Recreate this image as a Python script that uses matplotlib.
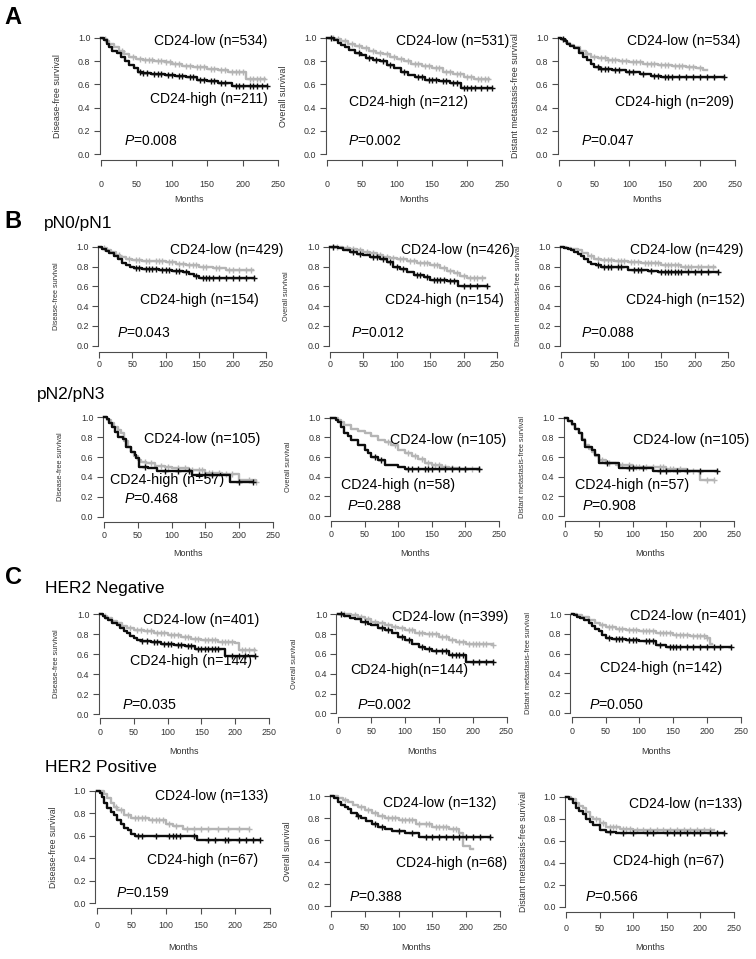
import numpy as np
import matplotlib
matplotlib.use("Agg")
import matplotlib.pyplot as plt

plt.rcParams['font.family'] = ['Liberation Sans', 'DejaVu Sans']
plt.rcParams['mathtext.fontset'] = 'custom'
plt.rcParams['mathtext.it'] = 'Liberation Sans:italic'
plt.rcParams['mathtext.rm'] = 'Liberation Sans'

# ---- data: step points (months, survival) and censor times ----
# A: all patients
a_dfs_low = [(0, 1.0), (3, 0.99), (8, 0.97), (12, 0.95), (18, 0.92), (25, 0.89), (32, 0.86), (40, 0.84),
             (50, 0.82), (60, 0.81), (75, 0.80), (90, 0.79), (100, 0.78), (115, 0.76), (130, 0.75),
             (150, 0.73), (165, 0.72), (180, 0.71), (205, 0.65), (232, 0.65)]
a_dfs_low_c = [5, 30, 45, 55, 62, 68, 72, 80, 85, 92, 98, 105, 110, 120, 125, 135, 140, 145, 155, 160,
               170, 175, 185, 190, 195, 200, 210, 215, 220, 225, 230]
a_dfs_high = [(0, 1.0), (4, 0.98), (8, 0.95), (12, 0.92), (16, 0.89), (22, 0.87), (28, 0.84), (34, 0.80),
              (40, 0.77), (46, 0.74), (52, 0.71), (58, 0.70), (70, 0.69), (90, 0.68), (105, 0.67),
              (120, 0.66), (135, 0.64), (150, 0.63), (165, 0.61), (185, 0.585), (235, 0.585)]
a_dfs_high_c = [55, 60, 65, 75, 80, 85, 95, 100, 110, 115, 125, 130, 140, 145, 155, 160, 170, 175, 190,
                195, 200, 210, 215, 220, 228, 235]

a_os_low = [(0, 1.0), (12, 0.99), (20, 0.97), (30, 0.95), (40, 0.93), (50, 0.91), (60, 0.89), (70, 0.87),
            (80, 0.86), (90, 0.84), (100, 0.82), (110, 0.80), (120, 0.78), (135, 0.76), (150, 0.74),
            (165, 0.71), (180, 0.69), (195, 0.66), (210, 0.645), (232, 0.645)]
a_os_low_c = [8, 15, 25, 35, 45, 55, 65, 75, 85, 95, 105, 115, 125, 130, 140, 145, 155, 160, 170, 175,
              185, 190, 200, 205, 215, 220, 225, 230]
a_os_high = [(0, 1.0), (10, 0.98), (15, 0.96), (20, 0.94), (25, 0.92), (32, 0.90), (40, 0.87), (48, 0.85),
             (55, 0.83), (65, 0.81), (75, 0.80), (85, 0.77), (95, 0.74), (105, 0.71), (115, 0.68),
             (125, 0.66), (140, 0.64), (160, 0.63), (175, 0.61), (192, 0.565), (235, 0.565)]
a_os_high_c = [5, 45, 60, 70, 80, 90, 110, 130, 135, 145, 150, 155, 165, 170, 180, 185, 195, 200, 205,
               212, 220, 228, 235]

a_dmfs_low = [(0, 1.0), (5, 0.98), (10, 0.96), (16, 0.94), (22, 0.92), (30, 0.89), (38, 0.86), (46, 0.84),
              (55, 0.83), (70, 0.81), (85, 0.80), (100, 0.79), (120, 0.78), (140, 0.77), (160, 0.76),
              (180, 0.75), (195, 0.74), (205, 0.72), (210, 0.72)]
a_dmfs_low_c = [40, 50, 60, 65, 70, 75, 80, 90, 95, 105, 110, 115, 125, 130, 135, 145, 150, 155, 165,
                170, 175, 185, 190, 200]
a_dmfs_high = [(0, 1.0), (3, 0.99), (8, 0.97), (12, 0.95), (16, 0.93), (22, 0.91), (28, 0.87), (34, 0.84),
               (40, 0.81), (45, 0.78), (50, 0.75), (58, 0.735), (75, 0.725), (95, 0.71), (115, 0.69),
               (130, 0.67), (145, 0.665), (235, 0.665)]
a_dmfs_high_c = [5, 55, 60, 65, 70, 80, 85, 100, 105, 120, 135, 140, 150, 155, 160, 170, 180, 190, 200,
                 210, 220, 235]

# B: pN0/pN1
b1_dfs_low = [(0, 1.0), (5, 0.99), (12, 0.97), (18, 0.95), (25, 0.92), (32, 0.90), (40, 0.88), (50, 0.865),
              (65, 0.86), (80, 0.855), (100, 0.85), (115, 0.83), (130, 0.815), (150, 0.80), (170, 0.78),
              (190, 0.765), (230, 0.76)]
b1_dfs_low_c = [8, 30, 45, 55, 60, 70, 75, 85, 90, 95, 105, 110, 120, 125, 135, 140, 145, 155, 160, 175,
                180, 195, 200, 210, 220, 228]
b1_dfs_high = [(0, 1.0), (5, 0.98), (10, 0.96), (15, 0.94), (22, 0.91), (28, 0.88), (34, 0.84), (40, 0.815),
               (46, 0.79), (52, 0.78), (65, 0.775), (90, 0.765), (110, 0.755), (125, 0.74), (135, 0.72),
               (142, 0.70), (150, 0.687), (232, 0.687)]
b1_dfs_high_c = [55, 60, 70, 75, 80, 85, 95, 100, 105, 115, 120, 130, 145, 155, 160, 165, 170, 180, 190,
                 200, 210, 220, 232]

b1_os_low = [(0, 1.0), (20, 0.99), (30, 0.98), (40, 0.965), (50, 0.95), (60, 0.935), (70, 0.92), (80, 0.90),
             (90, 0.89), (100, 0.88), (115, 0.86), (130, 0.84), (150, 0.815), (165, 0.78), (175, 0.75),
             (185, 0.73), (195, 0.70), (205, 0.68), (232, 0.68)]
b1_os_low_c = [10, 25, 35, 45, 55, 65, 75, 85, 95, 105, 110, 120, 125, 135, 140, 145, 155, 160, 170, 180,
               190, 200, 210, 215, 220, 228]
b1_os_high = [(0, 1.0), (12, 0.99), (20, 0.97), (30, 0.95), (40, 0.93), (50, 0.915), (60, 0.90), (75, 0.88),
              (85, 0.85), (95, 0.80), (105, 0.77), (115, 0.74), (125, 0.715), (140, 0.69), (150, 0.665),
              (175, 0.657), (192, 0.60), (235, 0.60)]
b1_os_high_c = [5, 35, 45, 65, 70, 80, 90, 100, 110, 130, 135, 145, 155, 160, 165, 170, 180, 185, 200,
                210, 220, 235]

b1_dmfs_low = [(0, 1.0), (8, 0.99), (15, 0.98), (25, 0.965), (32, 0.94), (40, 0.91), (50, 0.88), (60, 0.87),
               (80, 0.86), (100, 0.85), (120, 0.835), (150, 0.815), (180, 0.80), (200, 0.79), (230, 0.79)]
b1_dmfs_low_c = [45, 55, 65, 70, 75, 85, 90, 95, 105, 110, 115, 125, 130, 135, 140, 145, 155, 160, 165,
                 170, 175, 185, 190, 195, 205, 210, 220, 228]
b1_dmfs_high = [(0, 1.0), (5, 0.99), (10, 0.98), (15, 0.965), (20, 0.95), (25, 0.93), (30, 0.91), (35, 0.88),
                (40, 0.85), (45, 0.83), (52, 0.815), (60, 0.80), (80, 0.79), (100, 0.765), (130, 0.75),
                (145, 0.74), (235, 0.74)]
b1_dmfs_high_c = [55, 65, 70, 75, 85, 90, 110, 115, 120, 135, 150, 155, 160, 165, 170, 175, 180, 190, 200,
                  210, 220, 235]

# B: pN2/pN3
b2_dfs_low = [(0, 1.0), (5, 0.97), (10, 0.94), (15, 0.90), (20, 0.87), (25, 0.84), (30, 0.76), (35, 0.70),
              (40, 0.655), (45, 0.61), (50, 0.57), (55, 0.55), (62, 0.54), (75, 0.51), (90, 0.50),
              (100, 0.49), (125, 0.47), (150, 0.44), (175, 0.43), (200, 0.37), (225, 0.35)]
b2_dfs_low_c = [60, 70, 85, 95, 110, 120, 130, 140, 145, 155, 160, 170, 180, 190, 215, 225]
b2_dfs_high = [(0, 1.0), (5, 0.98), (8, 0.94), (12, 0.90), (16, 0.85), (20, 0.80), (28, 0.78), (32, 0.70),
               (40, 0.655), (46, 0.62), (48, 0.59), (52, 0.50), (65, 0.49), (78, 0.46), (130, 0.42),
               (186, 0.35), (220, 0.35)]
b2_dfs_high_c = [60, 90, 110, 125, 140, 150, 160, 200, 220]

b2_os_low = [(0, 1.0), (10, 0.98), (15, 0.96), (20, 0.925), (30, 0.89), (40, 0.865), (50, 0.84), (60, 0.81),
             (70, 0.77), (80, 0.75), (90, 0.72), (100, 0.67), (110, 0.64), (120, 0.61), (130, 0.58),
             (140, 0.54), (150, 0.52), (165, 0.50), (175, 0.485), (190, 0.475), (220, 0.475)]
b2_os_low_c = [85, 95, 115, 125, 135, 145, 155, 160, 170, 180, 200, 210, 220]
b2_os_high = [(0, 1.0), (8, 0.98), (10, 0.96), (15, 0.91), (20, 0.84), (25, 0.81), (30, 0.77), (40, 0.72),
              (50, 0.67), (55, 0.64), (60, 0.60), (70, 0.57), (80, 0.52), (100, 0.50), (110, 0.475),
              (220, 0.475)]
b2_os_high_c = [65, 75, 115, 120, 130, 140, 145, 150, 160, 170, 180, 190, 200, 220]

b2_dmfs_low = [(0, 1.0), (5, 0.97), (10, 0.925), (15, 0.88), (20, 0.84), (25, 0.78), (30, 0.72), (35, 0.68),
               (40, 0.655), (45, 0.61), (50, 0.57), (60, 0.535), (75, 0.52), (100, 0.495), (150, 0.475),
               (180, 0.46), (200, 0.366), (220, 0.366)]
b2_dmfs_low_c = [55, 65, 85, 95, 105, 110, 120, 130, 140, 145, 155, 160, 170, 190, 210, 220]
b2_dmfs_high = [(0, 1.0), (5, 0.97), (10, 0.94), (15, 0.89), (20, 0.84), (25, 0.77), (30, 0.705), (40, 0.67),
                (45, 0.62), (50, 0.535), (80, 0.485), (130, 0.46), (225, 0.46)]
b2_dmfs_high_c = [62, 95, 100, 115, 140, 150, 165, 180, 200, 225]

# C: HER2 negative
c1_dfs_low = [(0, 1.0), (5, 0.98), (10, 0.96), (18, 0.93), (25, 0.91), (32, 0.88), (40, 0.86), (50, 0.843),
              (65, 0.83), (80, 0.81), (100, 0.79), (120, 0.77), (135, 0.75), (150, 0.74), (175, 0.725),
              (200, 0.71), (205, 0.64), (230, 0.64)]
c1_dfs_low_c = [8, 45, 55, 60, 70, 75, 85, 90, 95, 105, 110, 115, 125, 130, 140, 145, 155, 160, 165, 170,
                180, 185, 190, 195, 210, 215, 220, 228]
c1_dfs_high = [(0, 1.0), (4, 0.98), (8, 0.96), (12, 0.94), (18, 0.91), (25, 0.89), (30, 0.86), (35, 0.83),
               (40, 0.81), (45, 0.785), (50, 0.76), (55, 0.74), (60, 0.73), (75, 0.72), (90, 0.70),
               (110, 0.69), (125, 0.68), (140, 0.65), (185, 0.58), (230, 0.58)]
c1_dfs_high_c = [62, 70, 80, 85, 95, 100, 105, 115, 120, 130, 135, 145, 150, 155, 160, 165, 170, 175, 195,
                 205, 215, 230]

c1_os_low = [(0, 1.0), (20, 0.99), (30, 0.97), (40, 0.95), (50, 0.926), (60, 0.91), (70, 0.89), (80, 0.875),
             (90, 0.86), (100, 0.84), (115, 0.815), (130, 0.80), (150, 0.775), (165, 0.745), (175, 0.724),
             (190, 0.70), (230, 0.69)]
c1_os_low_c = [10, 25, 35, 45, 55, 65, 75, 85, 95, 105, 110, 120, 125, 135, 140, 145, 155, 160, 170, 180,
               185, 195, 200, 205, 210, 215, 220, 230]
c1_os_high = [(0, 1.0), (10, 0.98), (18, 0.96), (25, 0.95), (35, 0.92), (45, 0.90), (50, 0.89), (60, 0.86),
              (70, 0.84), (80, 0.81), (90, 0.77), (100, 0.74), (110, 0.70), (120, 0.67), (130, 0.65),
              (140, 0.63), (165, 0.59), (190, 0.52), (230, 0.52)]
c1_os_high_c = [5, 40, 65, 75, 95, 105, 125, 135, 145, 155, 160, 170, 175, 180, 185, 200, 210, 220, 230]

c1_dmfs_low = [(0, 1.0), (8, 0.99), (15, 0.97), (25, 0.943), (35, 0.91), (42, 0.89), (50, 0.87), (65, 0.85),
               (80, 0.84), (100, 0.825), (125, 0.81), (150, 0.79), (175, 0.775), (200, 0.758), (205, 0.70),
               (208, 0.70)]
c1_dmfs_low_c = [45, 55, 60, 70, 75, 85, 90, 95, 105, 110, 115, 120, 130, 135, 140, 145, 155, 160, 165,
                 170, 180, 185, 190, 195, 200]
c1_dmfs_high = [(0, 1.0), (4, 0.99), (8, 0.97), (12, 0.96), (18, 0.94), (25, 0.91), (30, 0.88), (35, 0.85),
                (40, 0.825), (45, 0.79), (50, 0.757), (60, 0.75), (80, 0.74), (100, 0.724), (125, 0.69),
                (140, 0.667), (235, 0.667)]
c1_dmfs_high_c = [55, 65, 70, 75, 85, 90, 95, 110, 115, 120, 130, 145, 150, 155, 160, 170, 180, 190, 200,
                  210, 220, 235]

# C: HER2 positive
c2_dfs_low = [(0, 1.0), (10, 0.97), (15, 0.935), (20, 0.89), (25, 0.86), (30, 0.83), (40, 0.786),
              (50, 0.757), (75, 0.742), (100, 0.71), (110, 0.69), (125, 0.66), (220, 0.66)]
c2_dfs_low_c = [28, 35, 45, 55, 60, 65, 70, 80, 85, 90, 95, 105, 115, 130, 140, 150, 160, 175, 190, 205, 220]
c2_dfs_high = [(0, 1.0), (5, 0.98), (7, 0.95), (10, 0.89), (15, 0.845), (20, 0.815), (25, 0.785), (30, 0.74),
               (35, 0.71), (40, 0.667), (45, 0.65), (50, 0.62), (55, 0.60), (145, 0.564), (235, 0.564)]
c2_dfs_high_c = [60, 65, 85, 105, 110, 115, 120, 140, 160, 170, 185, 190, 205, 215, 225, 235]

c2_os_low = [(0, 1.0), (10, 0.98), (18, 0.96), (25, 0.95), (32, 0.92), (40, 0.90), (50, 0.87), (60, 0.85),
             (70, 0.82), (80, 0.80), (100, 0.78), (125, 0.75), (150, 0.72), (175, 0.70), (190, 0.66),
             (195, 0.55), (205, 0.52), (210, 0.52)]
c2_os_low_c = [20, 45, 55, 65, 75, 85, 90, 95, 105, 110, 115, 120, 130, 140, 145, 155, 160, 165, 170, 180, 185]
c2_os_high = [(0, 1.0), (5, 0.98), (10, 0.95), (15, 0.92), (20, 0.90), (25, 0.88), (30, 0.85), (38, 0.82),
              (45, 0.80), (52, 0.77), (60, 0.75), (70, 0.72), (80, 0.70), (90, 0.68), (110, 0.66),
              (130, 0.63), (235, 0.63)]
c2_os_high_c = [40, 65, 75, 100, 120, 140, 150, 160, 170, 180, 190, 200, 210, 220, 235]

c2_dmfs_low = [(0, 1.0), (8, 0.98), (15, 0.95), (20, 0.92), (25, 0.90), (30, 0.86), (35, 0.82), (40, 0.80),
               (50, 0.76), (60, 0.73), (80, 0.71), (100, 0.70), (220, 0.70)]
c2_dmfs_low_c = [45, 55, 65, 70, 75, 85, 90, 95, 105, 115, 125, 135, 145, 155, 165, 175, 185, 195, 205, 215]
c2_dmfs_high = [(0, 1.0), (5, 0.98), (10, 0.95), (15, 0.90), (20, 0.87), (25, 0.85), (30, 0.80), (35, 0.77),
                (40, 0.75), (50, 0.70), (60, 0.68), (75, 0.67), (235, 0.67)]
c2_dmfs_high_c = [65, 85, 100, 120, 130, 150, 160, 170, 180, 190, 200, 215, 225, 235]

# group labels (n) and log-rank P values
low_labels = [["CD24-low (n=534)", "CD24-low (n=531)", "CD24-low (n=534)"],
              ["CD24-low (n=429)", "CD24-low (n=426)", "CD24-low (n=429)"],
              ["CD24-low (n=105)", "CD24-low (n=105)", "CD24-low (n=105)"],
              ["CD24-low (n=401)", "CD24-low (n=399)", "CD24-low (n=401)"],
              ["CD24-low (n=133)", "CD24-low (n=132)", "CD24-low (n=133)"]]
high_labels = [["CD24-high (n=211)", "CD24-high (n=212)", "CD24-high (n=209)"],
               ["CD24-high (n=154)", "CD24-high (n=154)", "CD24-high (n=152)"],
               ["CD24-high (n=57)", "CD24-high (n=58)", "CD24-high (n=57)"],
               ["CD24-high (n=144)", "CD24-high(n=144)", "CD24-high (n=142)"],
               ["CD24-high (n=67)", "CD24-high (n=68)", "CD24-high (n=67)"]]
p_values = [["0.008", "0.002", "0.047"],
            ["0.043", "0.012", "0.088"],
            ["0.468", "0.288", "0.908"],
            ["0.035", "0.002", "0.050"],
            ["0.159", "0.388", "0.566"]]
y_titles = ["Disease-free survival", "Overall survival", "Distant metastasis-free survival"]
x_ticks = [0, 50, 100, 150, 200, 250]
y_ticks = [0.0, 0.2, 0.4, 0.6, 0.8, 1.0]

curves = [[(a_dfs_low, a_dfs_low_c, a_dfs_high, a_dfs_high_c),
           (a_os_low, a_os_low_c, a_os_high, a_os_high_c),
           (a_dmfs_low, a_dmfs_low_c, a_dmfs_high, a_dmfs_high_c)],
          [(b1_dfs_low, b1_dfs_low_c, b1_dfs_high, b1_dfs_high_c),
           (b1_os_low, b1_os_low_c, b1_os_high, b1_os_high_c),
           (b1_dmfs_low, b1_dmfs_low_c, b1_dmfs_high, b1_dmfs_high_c)],
          [(b2_dfs_low, b2_dfs_low_c, b2_dfs_high, b2_dfs_high_c),
           (b2_os_low, b2_os_low_c, b2_os_high, b2_os_high_c),
           (b2_dmfs_low, b2_dmfs_low_c, b2_dmfs_high, b2_dmfs_high_c)],
          [(c1_dfs_low, c1_dfs_low_c, c1_dfs_high, c1_dfs_high_c),
           (c1_os_low, c1_os_low_c, c1_os_high, c1_os_high_c),
           (c1_dmfs_low, c1_dmfs_low_c, c1_dmfs_high, c1_dmfs_high_c)],
          [(c2_dfs_low, c2_dfs_low_c, c2_dfs_high, c2_dfs_high_c),
           (c2_os_low, c2_os_low_c, c2_os_high, c2_os_high_c),
           (c2_dmfs_low, c2_dmfs_low_c, c2_dmfs_high, c2_dmfs_high_c)]]

# ---- layout (pixels): x of month 0, x of month 250, y of 1.0, y of 0.0 ----
W, H = 756, 959
geom = [[(101, 278, 38, 154), (327, 502, 38, 154), (559, 735, 38, 154)],
        [(99, 266, 246.7, 345.7), (330, 497, 246.7, 345.7), (561, 728, 246.7, 345.7)],
        [(104, 273, 417.3, 516.7), (331, 499, 417.7, 516), (565, 734, 417.7, 516)],
        [(100, 269, 614.3, 714), (337.7, 506.5, 614.3, 713.3), (571.7, 740.7, 614, 713)],
        [(96.7, 270, 791, 903.3), (331, 500, 796, 906), (566, 734, 797, 907)]]
spine_off = [0.052, 0.06, 0.053, 0.04, 0.042]
tick_pad = [10.5, 1.8, 2.2, 2.9, 5.0]
months_y = [199, None, 554, 752, 947]
ylab_fs = [6.4, 5.2, 5.3, 5.3, 6.2]
txt_fs = [10, 10, 10.3, 10.3, 10]
# (low x, low y, high x, high y, P x, P y) in data units
txt_pos = [[(75, 0.97, 69, 0.47, 32, 0.115), (98, 0.97, 31, 0.45, 30, 0.115), (97, 0.97, 80, 0.45, 31, 0.115)],
           [(107, 0.97, 61, 0.46, 27, 0.13), (107, 0.97, 82, 0.46, 32, 0.13), (104, 0.97, 97, 0.46, 30, 0.13)],
           [(59, 0.78, 9, 0.37, 30, 0.18), (88, 0.77, 14.5, 0.32, 24, 0.10), (101, 0.77, 15, 0.32, 25, 0.10)],
           [(63, 0.94, 44, 0.535, 32, 0.09), (80, 0.976, 18, 0.44, 29, 0.08), (86, 0.976, 42, 0.45, 26, 0.08)],
           [(84, 0.955, 72, 0.39, 28, 0.095), (77, 0.94, 96, 0.39, 27, 0.08), (94, 0.94, 70, 0.42, 28, 0.09)]]

LOW_COL = '#b5b5b5'
HIGH_COL = '#0d0d0d'
AXIS_COL = '#4d4d4d'


def step_value(curve, t):
    ts = [p[0] for p in curve]
    idx = np.searchsorted(ts, t, side='right') - 1
    return curve[idx][1]


def draw_curve(ax, curve, cens, color, z):
    ax.step([p[0] for p in curve], [p[1] for p in curve], where='post',
            color=color, lw=1.7, zorder=z, clip_on=False)
    ax.plot(cens, [step_value(curve, t) for t in cens], '+', color=color,
            ms=5, mew=1.0, zorder=z, clip_on=False)


fig = plt.figure(figsize=(W / 100, H / 100), dpi=100)

for r in range(5):
    for c in range(3):
        x0, x250, y1, y0 = geom[r][c]
        sx = (x250 - x0) / 250.0
        sy = y0 - y1
        xl, xr = -2.0, 258.0
        yb, yt = -spine_off[r], 1.04
        left = x0 + xl * sx
        right = x0 + xr * sx
        top = y1 - (yt - 1) * sy
        bottom = y0 - yb * sy
        ax = fig.add_axes([left / W, 1 - bottom / H, (right - left) / W, (bottom - top) / H])
        ax.set_xlim(xl, xr)
        ax.set_ylim(yb, yt)
        ax.patch.set_alpha(0)
        for s in ['top', 'right']:
            ax.spines[s].set_visible(False)
        ax.spines['left'].set_bounds(0, 1)
        ax.spines['bottom'].set_bounds(0, 250)
        for s in ['left', 'bottom']:
            ax.spines[s].set_color(AXIS_COL)
            ax.spines[s].set_linewidth(0.8)
        ax.set_xticks(x_ticks)
        ax.set_xticklabels([str(v) for v in x_ticks])
        ax.set_yticks(y_ticks)
        ax.set_yticklabels(['%.1f' % v for v in y_ticks])
        ax.tick_params(axis='x', length=4, width=0.8, color=AXIS_COL, labelsize=6.4,
                       labelcolor='#333333', pad=tick_pad[r])
        ax.tick_params(axis='y', length=4, width=0.8, color=AXIS_COL, labelsize=6.4,
                       labelcolor='#333333', pad=2.5)

        low, low_c, high, high_c = curves[r][c]
        draw_curve(ax, low, low_c, LOW_COL, 2)
        draw_curve(ax, high, high_c, HIGH_COL, 3)

        lx, ly, hx, hy, px, py = txt_pos[r][c]
        ax.text(lx, ly, low_labels[r][c], fontsize=txt_fs[r], va='center', ha='left', clip_on=False)
        ax.text(hx, hy, high_labels[r][c], fontsize=txt_fs[r], va='center', ha='left', clip_on=False)
        ax.text(px, py, '$P$=' + p_values[r][c], fontsize=txt_fs[r], va='center', ha='left', clip_on=False)

        fig.text((x0 - 43) / W, 1 - (y1 + y0) / 2 / H, y_titles[c], rotation=90,
                 fontsize=ylab_fs[r], color='#333333', ha='center', va='center')
        if months_y[r] is not None:
            fig.text((x0 + x250) / 2 / W, 1 - months_y[r] / H, 'Months', fontsize=6.5,
                     color='#333333', ha='center', va='center')

# panel letters and subgroup titles
fig.text(13 / W, 1 - 17 / H, 'A', fontsize=17, fontweight='bold', ha='center', va='center')
fig.text(13 / W, 1 - 222 / H, 'B', fontsize=17, fontweight='bold', ha='center', va='center')
fig.text(13 / W, 1 - 577 / H, 'C', fontsize=17, fontweight='bold', ha='center', va='center')
fig.text(44 / W, 1 - 224 / H, 'pN0/pN1', fontsize=12.5, ha='left', va='center')
fig.text(37 / W, 1 - 395 / H, 'pN2/pN3', fontsize=12.5, ha='left', va='center')
fig.text(45 / W, 1 - 588 / H, 'HER2 Negative', fontsize=12.5, ha='left', va='center')
fig.text(45 / W, 1 - 768 / H, 'HER2 Positive', fontsize=12.5, ha='left', va='center')

fig.savefig('out.png', dpi=100)
